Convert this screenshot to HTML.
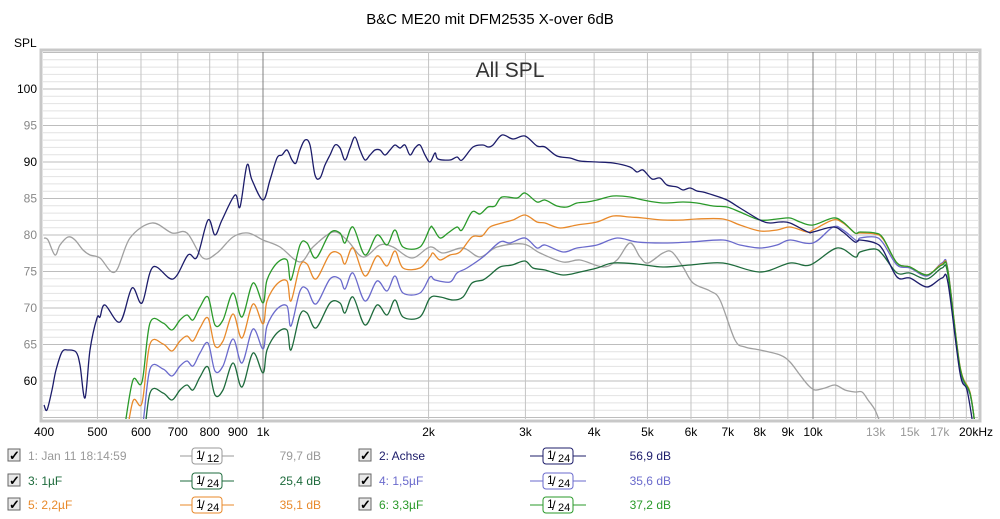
<!DOCTYPE html>
<html><head><meta charset="utf-8"><style>
html,body{margin:0;padding:0;background:#fff;width:1000px;height:519px;overflow:hidden;font-family:"Liberation Sans",Arial,sans-serif}
</style></head><body>
<svg id="s" width="1000" height="519" xmlns="http://www.w3.org/2000/svg" font-family="Liberation Sans, Arial, sans-serif">
<rect width="1000" height="519" fill="#fff"/>
<text x="490" y="24" text-anchor="middle" font-size="15" fill="#000">B&amp;C ME20 mit DFM2535 X-over 6dB</text>
<text x="14" y="47" font-size="12" fill="#000">SPL</text>
<rect x="41" y="50" width="939" height="371" fill="none" stroke="#c8c8c8" stroke-width="3"/>
<g id="grid"></g>
<text x="510" y="77" text-anchor="middle" font-size="21" fill="#333">All SPL</text>
<defs><clipPath id="c"><rect x="43" y="52" width="935" height="367"/></clipPath></defs>
<g id="curves" clip-path="url(#c)" fill="none" stroke-width="1.3" stroke-linejoin="round"></g>
<g id="labels" font-size="12"></g>
<g id="legend" font-size="12"></g>
</svg>
<script>
var NS="http://www.w3.org/2000/svg";
function el(p,t,a,txt){var e=document.createElementNS(NS,t);for(var k in a)e.setAttribute(k,a[k]);if(txt!==undefined)e.textContent=txt;p.appendChild(e);return e;}
var g=document.getElementById('grid'),L=document.getElementById('labels'),C=document.getElementById('curves'),G=document.getElementById('legend');
function fx(f){return 263+550*Math.log10(f/1000);}
function dy(d){return 89+(100-d)*7.3;}
for(var d=55;d<=107;d++){var y=dy(d);if(y<52||y>419)continue;var m=d%5==0;
el(g,'line',{x1:43,x2:978,y1:y,y2:y,stroke:m?'#bdbdbd':'#e2e2e2','stroke-width':1});}
[60,65,70,75,80,85,90,95,100].forEach(function(d){var dark=(d==60||d==90||d==100);
el(L,'text',{x:37,y:dy(d)+4,'text-anchor':'end',fill:dark?'#000':'#888'},String(d));});
var fs=[];for(var f=500;f<1000;f+=100)fs.push(f);for(f=2000;f<10000;f+=1000)fs.push(f);for(f=11000;f<20000;f+=1000)fs.push(f);
fs.forEach(function(f){var x=fx(f);el(g,'line',{x1:x,x2:x,y1:52,y2:419,stroke:'#c4c4c4','stroke-width':1});});
[1000,10000].forEach(function(f){el(g,'line',{x1:fx(f),x2:fx(f),y1:52,y2:419,stroke:'#808080','stroke-width':1});});
var xl=[[400,'400','#000'],[500,'500','#000'],[600,'600','#000'],[700,'700','#000'],[800,'800','#000'],[900,'900','#000'],[1000,'1k','#000'],[2000,'2k','#000'],[3000,'3k','#000'],[4000,'4k','#000'],[5000,'5k','#000'],[6000,'6k','#000'],[7000,'7k','#000'],[8000,'8k','#000'],[9000,'9k','#000'],[10000,'10k','#000'],[13000,'13k','#999'],[15000,'15k','#999'],[17000,'17k','#999']];
xl.forEach(function(a){el(L,'text',{x:fx(a[0]),y:436,'text-anchor':'middle',fill:a[2]},a[1]);});
el(L,'text',{x:976,y:436,'text-anchor':'middle',fill:'#000'},'20kHz');
function path(p,col){var d='M'+p[0][0]+','+p[0][1];
for(var i=0;i<p.length-1;i++){var p0=p[i-1]||p[i],p1=p[i],p2=p[i+1],p3=p[i+2]||p2;
var c1=[p1[0]+(p2[0]-p0[0])/6,p1[1]+(p2[1]-p0[1])/6],c2=[p2[0]-(p3[0]-p1[0])/6,p2[1]-(p3[1]-p1[1])/6];
d+=' C'+c1[0].toFixed(1)+','+c1[1].toFixed(1)+' '+c2[0].toFixed(1)+','+c2[1].toFixed(1)+' '+p2[0]+','+p2[1];}
el(C,'path',{d:d,stroke:col});}
function P(s){var a=s.trim().split(/\s*;\s*/);return a.map(function(t){var q=t.split(',');return [+q[0],+q[1]];});}
var gray=P("44,238;48,240;55,255;60,245;68,237;75,240;83,250;90,255;100,258;115,272;130,238;152,223;172,233;187,233;203,258;217,253;233,237;248,233;263,240;280,247;300,262;313,247;333,232;347,240;363,257;380,245;393,247;412,258;430,247;443,253;463,248;480,257;497,247;523,244;540,253;563,262;580,260;603,267;617,260;630,243;640,257;648,263;663,253;672,252;683,267;693,283;710,291;720,300;735,340;745,347;760,350;780,355;790,362;800,375;808,385;815,390;825,388;835,385;845,390;855,392;862,392;868,400;875,410;881,425");
var navy=P("44,405;47,410;52,390;56,370;62,352;68,350;76,352;80,365;85,398;90,350;97,318;100,317;105,305;120,322;132,288;142,303;153,267;173,279;188,255;197,257;208,220;215,235;222,220;235,195;240,207;247,165;252,180;263,200;270,180;277,158;282,155;287,150;292,160;296,163;300,150;305,140;310,145;315,175;320,178;325,165;330,155;335,145;340,148;345,160;350,148;355,137;360,150;365,160;370,155;375,150;380,150;385,155;390,150;395,145;400,148;405,145;410,155;415,148;420,145;425,155;430,162;435,153;438,159;450,160;457,157;462,160;473,147;483,145;488,147;493,145;502,135;513,139;525,136;537,146;545,147;557,156;570,158;580,161;597,162;613,163;630,167;637,172;643,170;652,179;660,178;667,185;677,187;683,190;690,188;697,191;703,192;713,195;727,200;740,208;760,220;770,223;780,222;790,223;808,232;813,232;833,227;843,232;855,242;860,240;875,243;883,250;897,277;910,278;927,287;942,278;948,283;960,373;967,390;973,425");
var green=P("125,425;133,380;142,382;150,323;163,323;172,330;180,320;187,315;193,320;200,307;208,297;215,325;223,320;233,293;242,317;253,283;263,303;267,280;277,263;287,260;291,280;300,245;307,243;316,258;330,233;340,233;345,243;353,227;365,255;377,235;387,245;395,230;403,247;420,247;430,228;433,228;440,238;448,233;457,227;462,230;472,212;480,214;488,207;495,206;502,197;517,198;525,193;537,202;545,200;557,206;567,207;577,203;587,202;597,200;613,196;630,197;643,200;663,203;683,202;697,203;713,206;727,207;740,212;760,220;777,219;790,218;800,222;813,225;833,218;843,222;855,233;860,232;875,233;883,238;897,263;910,267;927,275;942,265;948,272;960,367;970,393;975,425");
function low(off){return green.filter(function(p){return p[0]<430;}).map(function(p){return [p[0],p[1]+off];});}
var orange=low(21).concat(P("430,257;433,253;440,260;450,255;460,252;472,237;482,236;490,227;502,223;513,220;525,215;537,222;545,223;560,228;577,225;597,222;613,216;630,217;643,218;663,220;683,220;697,219;723,219;740,225;760,231;777,230;790,227;807,232;813,230;833,220;843,223;855,233;860,233;875,234;883,239;897,263;910,267;927,275;942,264;948,271;960,366;970,392;975,425"));
var purple=low(46).concat(P("430,277;435,280;450,282;457,273;467,268;483,257;500,242;510,243;525,238;537,248;545,245;563,252;577,248;597,245;617,238;637,242;663,243;690,242;723,240;740,245;760,248;777,245;790,240;813,243;833,227;843,230;857,241;860,238;875,237;883,243;897,265;910,268;927,276;942,263;948,270;960,368;970,394;975,425"));
var dgreen=low(70).concat(P("430,298;440,297;453,300;463,297;472,283;483,280;490,275;500,267;512,265;525,261;533,268;545,270;563,275;580,272;597,268;613,263;637,264;663,267;690,265;723,263;760,272;790,263;810,265;837,248;855,257;860,252;875,249;883,255;897,273;910,273;927,279;942,268;948,275;960,369;970,394;975,425"));
path(gray,'#a0a0a0');path(dgreen,'#1e6b3c');path(purple,'#6a6acc');path(orange,'#e8892a');path(green,'#2a9a2a');path(navy,'#1c1c6a');
function cb(x,y){el(G,'rect',{x:x,y:y-7,width:12,height:12,fill:'#e8e8e8',stroke:'#666'});el(G,'text',{x:x+1,y:y+4,'font-size':13,'font-weight':'bold',fill:'#000'},'\u2713');}
function filt(x1,x2,y,col,den){el(G,'line',{x1:x1,x2:x2,y1:y,y2:y,stroke:col});var bx=(x1+x2)/2-15;
el(G,'rect',{x:bx,y:y-8,width:30,height:16,rx:3,fill:'#fff',stroke:col});
el(G,'text',{x:bx+4,y:y+3,'font-size':12,fill:'#000'},'1');el(G,'text',{x:bx+9,y:y+5,'font-size':13,fill:'#000'},'/');el(G,'text',{x:bx+15,y:y+6,'font-size':11,fill:'#000'},den);}
var rows=[[456,'1: Jan 11 18:14:59','#999','12','79,7 dB','2: Achse','#1c1c6a','56,9 dB'],[481,'3: 1µF','#1e6b3c','24','25,4 dB','4: 1,5µF','#6a6acc','35,6 dB'],[505,'5: 2,2µF','#e8892a','24','35,1 dB','6: 3,3µF','#2a9a2a','37,2 dB']];
rows.forEach(function(r){var y=r[0];cb(8,y);el(G,'text',{x:28,y:y+4,fill:r[2]},r[1]);filt(180,234,y,r[2],r[3]);
el(G,'text',{x:321,y:y+4,'text-anchor':'end',fill:r[2]},r[4]);cb(359,y);el(G,'text',{x:379,y:y+4,fill:r[6]},r[5]);
filt(530,586,y,r[6],'24');el(G,'text',{x:671,y:y+4,'text-anchor':'end',fill:r[6]},r[7]);});
</script>
</body></html>
